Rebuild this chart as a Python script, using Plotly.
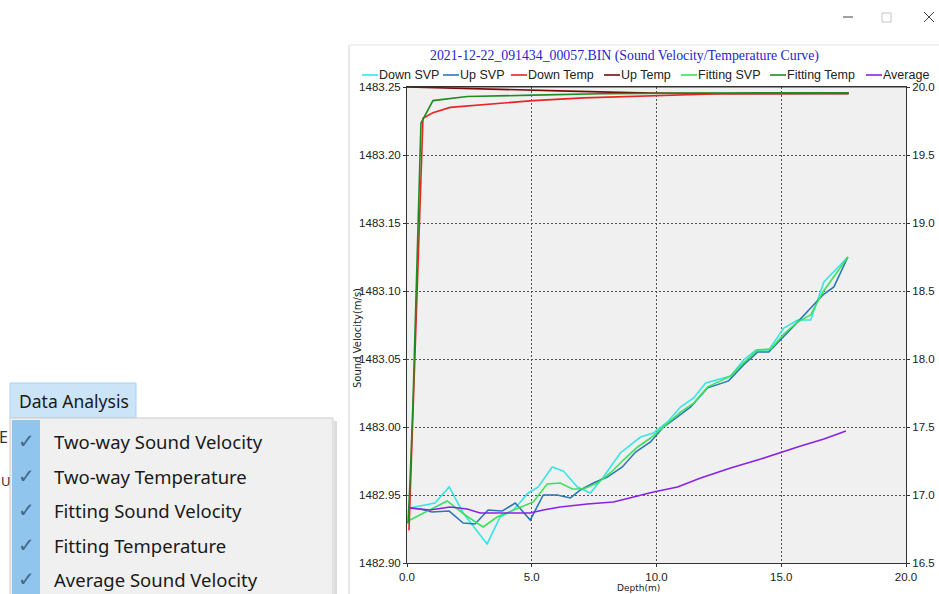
import plotly.graph_objects as go

# ---------------- data ----------------
title_text = "2021-12-22_091434_00057.BIN (Sound Velocity/Temperature Curve)"
series_names = ["Down SVP", "Up SVP", "Down Temp", "Up Temp", "Fitting SVP", "Fitting Temp", "Average"]
series_colors = ["#38e4e4", "#2a78b4", "#e82424", "#7a0a0a", "#3ce25c", "#1f8c1f", "#8a22e6"]

down_svp_depth = [0.12, 1.12, 1.69, 2.25, 3.21, 3.73, 4.26, 4.86, 5.26, 5.82, 6.27, 6.83, 7.35, 7.87, 8.55,
                  9.36, 9.88, 10.44, 10.96, 11.49, 11.97, 12.45, 12.97, 13.49, 13.98, 14.50, 15.10, 15.66,
                  16.18, 16.71, 17.67]
down_svp = [1482.9404, 1482.9441, 1482.9559, 1482.9368, 1482.9140, 1482.9338, 1482.9390, 1482.9515,
            1482.9559, 1482.9706, 1482.9676, 1482.9559, 1482.9515, 1482.9632, 1482.9809, 1482.9926,
            1482.9956, 1483.0037, 1483.0147, 1483.0213, 1483.0324, 1483.0346, 1483.0375, 1483.0493,
            1483.0566, 1483.0566, 1483.0728, 1483.0787, 1483.0787, 1483.1066, 1483.1250]

up_svp_depth = [0.12, 0.52, 1.00, 1.69, 2.25, 2.73, 3.25, 3.82, 4.34, 4.94, 5.46, 6.02, 6.55, 6.95, 7.47,
                8.03, 8.63, 9.16, 9.76, 10.28, 10.84, 11.37, 12.05, 12.89, 13.49, 14.06, 14.50, 15.06,
                15.66, 16.18, 16.67, 17.11, 17.67]
up_svp = [1482.9404, 1482.9397, 1482.9375, 1482.9382, 1482.9294, 1482.9287, 1482.9390, 1482.9382,
          1482.9441, 1482.9316, 1482.9500, 1482.9500, 1482.9478, 1482.9537, 1482.9588, 1482.9632,
          1482.9706, 1482.9816, 1482.9890, 1483.0000, 1483.0074, 1483.0147, 1483.0288, 1483.0339,
          1483.0457, 1483.0552, 1483.0552, 1483.0655, 1483.0773, 1483.0875, 1483.0971, 1483.1030,
          1483.1250]

fit_svp_depth = [0.12, 0.92, 1.61, 2.33, 3.05, 3.61, 4.26, 5.06, 5.62, 6.14, 6.63, 7.07, 7.63, 8.15, 8.67,
                 9.24, 9.76, 10.28, 10.96, 11.49, 12.05, 12.57, 12.97, 13.49, 14.06, 14.58, 15.10, 15.66,
                 16.18, 16.67, 17.11, 17.67]
fit_svp = [1482.9316, 1482.9390, 1482.9456, 1482.9353, 1482.9265, 1482.9338, 1482.9390, 1482.9449,
           1482.9581, 1482.9588, 1482.9544, 1482.9544, 1482.9588, 1482.9662, 1482.9757, 1482.9853,
           1482.9919, 1483.0000, 1483.0110, 1483.0176, 1483.0295, 1483.0339, 1483.0375, 1483.0471,
           1483.0567, 1483.0574, 1483.0684, 1483.0773, 1483.0824, 1483.0993, 1483.1103, 1483.1250]

avg_depth = [0.12, 0.92, 1.73, 2.41, 2.93, 3.45, 4.14, 4.94, 5.46, 6.14, 7.23, 8.27, 9.08, 9.88, 10.84,
             11.77, 12.97, 14.18, 15.78, 16.71, 17.59]
avg_svp = [1482.9404, 1482.9390, 1482.9412, 1482.9397, 1482.9368, 1482.9368, 1482.9368, 1482.9368,
           1482.9390, 1482.9412, 1482.9434, 1482.9449, 1482.9485, 1482.9522, 1482.9559, 1482.9625,
           1482.9699, 1482.9765, 1482.9861, 1482.9912, 1482.9971]

down_temp_depth = [0.08, 0.24, 0.44, 0.64, 1.04, 1.73, 2.41, 3.73, 5.06, 7.07, 9.08, 10.44, 12.57, 15.0, 17.71]
down_temp = [16.74, 17.55, 18.68, 19.77, 19.81, 19.85, 19.86, 19.88, 19.90, 19.92, 19.93, 19.94, 19.95,
             19.953, 19.956]

up_temp_depth = [0.0, 2.5, 4.0, 6.5, 9.75, 13.0, 17.7]
up_temp = [20.0, 19.99, 19.985, 19.97, 19.955, 19.95, 19.95]

fit_temp_depth = [0.04, 0.12, 0.24, 0.40, 0.56, 1.04, 2.41, 5.06, 7.75, 11.77, 17.71]
fit_temp = [16.79, 17.09, 17.68, 18.68, 19.735, 19.90, 19.93, 19.94, 19.95, 19.956, 19.958]

menu_title = "Data Analysis"
menu_items = ["Two-way Sound Velocity", "Two-way Temperature", "Fitting Sound Velocity",
              "Fitting Temperature", "Average Sound Velocity"]

# ---------------- figure ----------------
W, H = 939, 594
L, R, T, B = 407, 906, 87, 563


def xp(px):
    return (px - L) / (R - L)


def yp(py):
    return (B - py) / (B - T)


fig = go.Figure()
traces = [
    (down_svp_depth, down_svp, "y"),
    (up_svp_depth, up_svp, "y"),
    (down_temp_depth, down_temp, "y2"),
    (up_temp_depth, up_temp, "y2"),
    (fit_svp_depth, fit_svp, "y"),
    (fit_temp_depth, fit_temp, "y2"),
    (avg_depth, avg_svp, "y"),
]
order = [3, 2, 5, 0, 1, 4, 6]
for i in order:
    xs, ys, ax = traces[i]
    fig.add_trace(go.Scatter(x=xs, y=ys, yaxis=ax, mode="lines", name=series_names[i],
                             line=dict(color=series_colors[i], width=1.6), showlegend=False))

tick_font = dict(family="Liberation Sans", size=11.5, color="#222222")
axis_common = dict(showline=True, linecolor="#333333", linewidth=1, ticks="outside", ticklen=3,
                   tickcolor="#333333", tickfont=tick_font, zeroline=False, automargin=False)

fig.update_layout(
    width=W, height=H, autosize=False,
    margin=dict(l=L, r=W - R, t=T, b=H - B, autoexpand=False),
    paper_bgcolor="white", plot_bgcolor="#f0f0f0",
    xaxis=dict(range=[0, 20], dtick=5, tickformat=".1f", showgrid=True, gridcolor="#505050",
               griddash="2px,2px", gridwidth=1, mirror=True, **axis_common),
    yaxis=dict(range=[1482.90, 1483.25], dtick=0.05, tickformat=".2f", showgrid=True,
               gridcolor="#505050", griddash="2px,2px", gridwidth=1, mirror=False, **axis_common),
    yaxis2=dict(range=[16.5, 20.0], dtick=0.5, tickformat=".1f", overlaying="y", side="right",
                showgrid=False, **axis_common),
    showlegend=False,
)

shapes = []
annotations = []

# plot top border
shapes.append(dict(type="line", xref="paper", yref="paper", x0=0, x1=1, y0=1, y1=1,
                   line=dict(color="#333333", width=1)))

# title
annotations.append(dict(text=title_text, xref="paper", yref="paper", x=xp(624), y=yp(56),
                        showarrow=False, xanchor="center", yanchor="middle",
                        font=dict(family="Liberation Serif", size=13.8, color="#2424d4")))

# axis titles
annotations.append(dict(text="Sound Velocity(m/s)", xref="paper", yref="paper", x=xp(357), y=yp(338),
                        showarrow=False, textangle=-90, xanchor="center", yanchor="middle",
                        font=dict(family="DejaVu Sans", size=10, color="#222222")))
annotations.append(dict(text="Depth(m)", xref="paper", yref="paper", x=xp(638), y=yp(588),
                        showarrow=False, xanchor="center", yanchor="middle",
                        font=dict(family="DejaVu Sans", size=9, color="#222222")))

# legend (manual, to match the compact swatches)
leg_text_x = [378, 459, 527, 620, 697, 786, 882]
leg_y = 75
for i, name in enumerate(series_names):
    tx = leg_text_x[i]
    shapes.append(dict(type="line", xref="paper", yref="paper", x0=xp(tx - 16), x1=xp(tx),
                       y0=yp(leg_y), y1=yp(leg_y), line=dict(color=series_colors[i], width=1.6)))
    annotations.append(dict(text=name, xref="paper", yref="paper", x=xp(tx - 1), y=yp(leg_y),
                            showarrow=False, xanchor="left", yanchor="middle",
                            font=dict(family="Liberation Sans", size=12.5, color="#222222")))

# chart window frame
shapes.append(dict(type="line", xref="paper", yref="paper", x0=xp(349), x1=xp(349), y0=yp(45), y1=yp(600),
                   line=dict(color="#d4d4d4", width=1)))
shapes.append(dict(type="line", xref="paper", yref="paper", x0=xp(349), x1=xp(945), y0=yp(45), y1=yp(45),
                   line=dict(color="#e4e4e4", width=1)))

# window controls
shapes.append(dict(type="line", xref="paper", yref="paper", x0=xp(843), x1=xp(853), y0=yp(17), y1=yp(17),
                   line=dict(color="#444444", width=1)))
shapes.append(dict(type="rect", xref="paper", yref="paper", x0=xp(882), x1=xp(891), y0=yp(13), y1=yp(22),
                   line=dict(color="#c4c4c4", width=1)))
shapes.append(dict(type="line", xref="paper", yref="paper", x0=xp(924), x1=xp(934), y0=yp(12), y1=yp(22),
                   line=dict(color="#444444", width=1)))
shapes.append(dict(type="line", xref="paper", yref="paper", x0=xp(924), x1=xp(934), y0=yp(22), y1=yp(12),
                   line=dict(color="#444444", width=1)))

# menu
shapes.append(dict(type="rect", xref="paper", yref="paper", x0=xp(10), x1=xp(136), y0=yp(383), y1=yp(418),
                   fillcolor="#cce4f7", line=dict(color="#a8d2f2", width=1)))
annotations.append(dict(text=menu_title, xref="paper", yref="paper", x=xp(17), y=yp(401),
                        showarrow=False, xanchor="left", yanchor="middle",
                        font=dict(family="Noto Sans", size=17.5, color="#1a1a1a")))
shapes.append(dict(type="rect", xref="paper", yref="paper", x0=xp(334), x1=xp(337), y0=yp(421), y1=yp(600),
                   fillcolor="#dddddd", line=dict(width=0)))
shapes.append(dict(type="rect", xref="paper", yref="paper", x0=xp(10), x1=xp(333), y0=yp(418), y1=yp(600),
                   fillcolor="#f0f0f0", line=dict(color="#cccccc", width=1)))
shapes.append(dict(type="rect", xref="paper", yref="paper", x0=xp(12), x1=xp(40), y0=yp(420), y1=yp(600),
                   fillcolor="#90c6ee", line=dict(width=0)))
item_y = [441, 476, 510, 545, 579]
for txt, yy in zip(menu_items, item_y):
    annotations.append(dict(text="✓", xref="paper", yref="paper", x=xp(26), y=yp(yy),
                            showarrow=False, xanchor="center", yanchor="middle",
                            font=dict(family="DejaVu Sans", size=20, color="#46668a")))
    annotations.append(dict(text=txt, xref="paper", yref="paper", x=xp(52), y=yp(yy),
                            showarrow=False, xanchor="left", yanchor="middle",
                            font=dict(family="Noto Sans", size=18.5, color="#1a1a1a")))
# partly hidden letters behind the menu
annotations.append(dict(text="E", xref="paper", yref="paper", x=xp(-3), y=yp(437), showarrow=False,
                        xanchor="left", yanchor="middle", font=dict(family="Noto Sans", size=16, color="#333333")))
annotations.append(dict(text="U", xref="paper", yref="paper", x=xp(-1), y=yp(481), showarrow=False,
                        xanchor="left", yanchor="middle", font=dict(family="Noto Sans", size=13, color="#333333")))

fig.update_layout(shapes=shapes, annotations=annotations)
fig.write_html("out.html",
               config=dict(responsive=False, displayModeBar=False),
               post_script="document.body.style.margin='0';document.body.style.overflow='hidden';")
